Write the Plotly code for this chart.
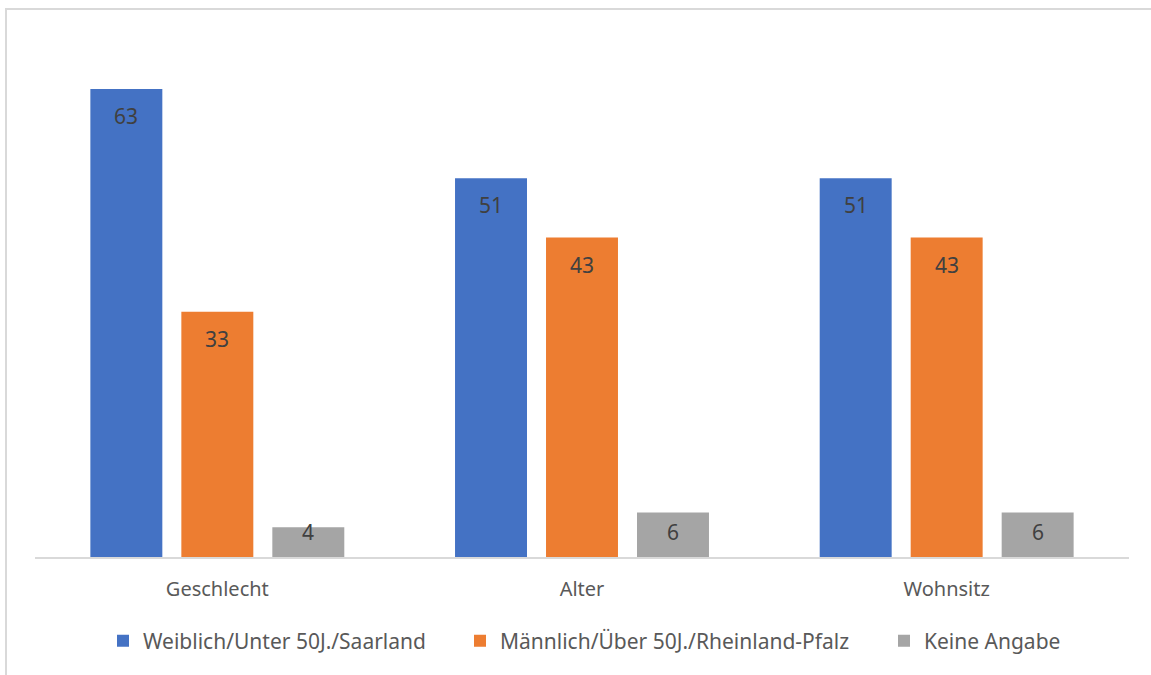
import plotly.graph_objects as go

# Survey breakdown by characteristic (percent)
categories = ["Geschlecht", "Alter", "Wohnsitz"]
series_names = [
    "Weiblich/Unter 50J./Saarland",
    "Männlich/Über 50J./Rheinland-Pfalz",
    "Keine Angabe",
]
weiblich_unter50_saarland = [63, 51, 51]
maennlich_ueber50_rlp = [33, 43, 43]
keine_angabe = [4, 6, 6]

series_values = [weiblich_unter50_saarland, maennlich_ueber50_rlp, keine_angabe]
colors = ["#4472C4", "#ED7D31", "#A5A5A5"]

W, H = 1151, 675
M_L, M_R, M_T, M_B = 35, 22, 37, 118
Y_MAX = 70
plot_w = W - M_L - M_R
plot_h = H - M_T - M_B
px_per_unit = plot_h / Y_MAX

BARGAP = 0.2515
BARGROUPGAP = 0.209
FONT = "Noto Sans"

# one legend per series so each entry can sit at its own position
legend_ids = ["legend", "legend2", "legend3"]
legend_left_px = [103, 460, 884]
legend_mid_px = 641

fig = go.Figure()
for name, vals, col, lg in zip(series_names, series_values, colors, legend_ids):
    fig.add_trace(go.Bar(
        x=categories, y=vals, name=name, legend=lg,
        marker=dict(color=col, line=dict(width=0)),
        hoverinfo="x+y+name",
    ))

# value labels sit near the top of each bar, clamped above the baseline for short bars
slot_px = plot_w / len(categories) * (1 - BARGAP) / len(series_names)
n = len(series_names)
annotations = []
for i, vals in enumerate(series_values):
    offset = (i - (n - 1) / 2) * slot_px
    for cat, v in zip(categories, vals):
        bar_px = v * px_per_unit
        shift = min(27, bar_px - 25)
        annotations.append(dict(
            x=cat, y=v, xref="x", yref="y", text=str(v),
            showarrow=False, xshift=offset, yshift=-shift,
            font=dict(family=FONT, size=21, color="#404040"),
            xanchor="center", yanchor="middle",
        ))

# chart frame
shapes = [dict(
    type="rect", xref="paper", yref="paper",
    x0=(6 - M_L) / plot_w, x1=(W + 10 - M_L) / plot_w,
    y0=-(H + 10 - (H - M_B)) / plot_h, y1=(H - M_B - 9) / plot_h,
    line=dict(color="#D9D9D9", width=2), fillcolor="rgba(0,0,0,0)",
    layer="below",
)]

legend_common = dict(
    orientation="h", xanchor="left", yanchor="middle",
    y=-(legend_mid_px - (H - M_B)) / plot_h,
    font=dict(family=FONT, size=21, color="#595959"),
    itemclick=False, itemdoubleclick=False, bgcolor="rgba(0,0,0,0)",
)
legends = {}
for lg, lx in zip(legend_ids, legend_left_px):
    legends[lg] = dict(legend_common, x=(lx - M_L) / plot_w)

fig.update_layout(
    width=W, height=H,
    margin=dict(l=M_L, r=M_R, t=M_T, b=M_B, autoexpand=False),
    paper_bgcolor="white", plot_bgcolor="white",
    barmode="group", bargap=BARGAP, bargroupgap=BARGROUPGAP,
    font=dict(family=FONT, size=20, color="#595959"),
    xaxis=dict(
        showline=True, linecolor="#D9D9D9", linewidth=2,
        ticks="", showgrid=False, zeroline=False,
        tickfont=dict(family=FONT, size=20, color="#595959"),
        ticklabelstandoff=13,
    ),
    yaxis=dict(range=[0, Y_MAX], visible=False, showgrid=False, zeroline=False),
    annotations=annotations,
    shapes=shapes,
    showlegend=True,
    **legends,
)

fig.write_html("out.html")
